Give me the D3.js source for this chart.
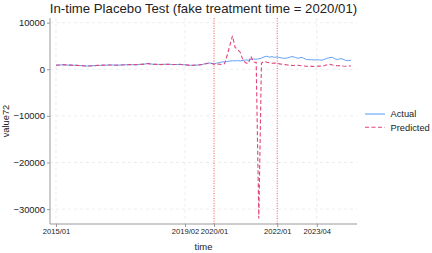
<!DOCTYPE html>
<html>
<head>
<meta charset="utf-8">
<script src="https://cdn.jsdelivr.net/npm/d3@7"></script>
<style>
  body { margin: 0; background: #fff; }
  text { font-family: "Liberation Sans", Arial, sans-serif; fill: #222; }
</style>
</head>
<body>
<div id="chart"></div>
<script>
// month index 0 = 2015/01
var tickMonths = [0, 49, 60, 84, 99];
var tickLabels = ["2015/01", "2019/02", "2020/01", "2022/01", "2023/04"];
var yTicks = [10000, 0, -10000, -20000, -30000];
var markerMonths = [60, 84]; // 2020/01, 2022/01

var actual = [
  900, 880, 950, 980, 920, 900, 870, 860, 830, 800, 760, 720,
  700, 720, 760, 800, 830, 850, 870, 880, 900, 920, 900, 880,
  900, 930, 950, 970, 1000, 980, 960, 1000, 1050, 1080, 1150, 1250,
  1150, 1050, 1070, 1040, 1020, 1060, 1080, 1050, 1030, 1000, 1020, 1040,
  1000, 950, 900, 860, 850, 880, 920, 980, 1100, 1250, 1350, 1300,
  1150, 1300, 1450, 1550, 1600, 1650, 1750, 1850, 1800, 1850, 1800, 1900,
  2000, 1950, 2100, 2200, 2150, 2250, 2400, 2650, 2800, 2600, 2700, 2550,
  2650, 2500, 2400, 2350, 2450, 2650, 2700, 2500, 2350, 2550, 2400, 2100,
  2050, 2050, 2000, 2050, 2000, 1950, 2150, 2350, 2500, 2550, 2200, 2100,
  2300, 2150, 1900, 1850, 1950
];
var predicted = [
  850, 900, 920, 950, 950, 880, 900, 830, 850, 780, 780, 700,
  730, 700, 780, 780, 850, 830, 900, 860, 920, 900, 930, 860,
  920, 910, 980, 950, 1020, 960, 990, 980, 1080, 1050, 1200, 1200,
  1100, 1080, 1040, 1060, 1000, 1080, 1050, 1080, 1000, 1030, 1000, 1060,
  980, 980, 880, 880, 830, 900, 900, 1000, 1050, 1200, 1300, 1250,
  1100, 1050, 1100, 1000, 1200, 3000, 5100, 7150, 4700, 4200, 3600, 1900,
  1400, 1200, 2800, 1500, 1500, -32000, 1300, 1700, 1500, 1400, 1300, 1350,
  1250, 1150, 1100, 1000, 900, 850, 800, 900, 850, 750, 700, 650,
  600, 650, 600, 650, 700, 650, 800, 1000, 1050, 900, 800, 750,
  800, 700, 650, 700, 700
];

var W = 432, H = 253;
var plotL = 50, plotR = 357, plotT = 18, plotB = 224;

var svg = d3.select("#chart").append("svg")
  .attr("width", W)
  .attr("height", H);

var x = d3.scaleLinear().domain([-2.27, 114.27]).range([plotL, plotR]);
var y = d3.scaleLinear().domain([-33200, 11000]).range([plotB, plotT]);

// grid
svg.selectAll(".hgrid").data(yTicks).enter().append("line")
  .attr("x1", plotL).attr("x2", plotR)
  .attr("y1", function(d) { return y(d); })
  .attr("y2", function(d) { return y(d); })
  .attr("stroke", "#e8e8e8").attr("stroke-width", 0.8)
  .attr("stroke-dasharray", "3,3");
svg.selectAll(".vgrid").data(tickMonths).enter().append("line")
  .attr("y1", plotT).attr("y2", plotB)
  .attr("x1", function(d) { return x(d); })
  .attr("x2", function(d) { return x(d); })
  .attr("stroke", "#e8e8e8").attr("stroke-width", 0.8)
  .attr("stroke-dasharray", "3,3");

// axes
var xAxis = d3.axisBottom(x).tickValues(tickMonths)
  .tickFormat(function(d, i) { return tickLabels[i]; })
  .tickSize(3).tickPadding(2);
var gx = svg.append("g").attr("transform", "translate(0," + plotB + ")").call(xAxis);
gx.select(".domain").attr("stroke", "#999").attr("d", "M" + plotL + ",0H" + plotR);
gx.selectAll(".tick line").attr("stroke", "#999");
gx.selectAll(".tick text").attr("font-size", "7.6px").attr("fill", "#222");

var yAxis = d3.axisLeft(y).tickValues(yTicks)
  .tickSize(3).tickPadding(2).tickFormat(d3.format("d"));
var gy = svg.append("g").attr("transform", "translate(" + plotL + ",0)").call(yAxis);
gy.select(".domain").attr("stroke", "#999").attr("d", "M0," + plotT + "V" + plotB);
gy.selectAll(".tick line").attr("stroke", "#999");
gy.selectAll(".tick text").attr("font-size", "9.4px").attr("fill", "#222");
svg.selectAll(".domain").attr("fill", "none");

// treatment markers
svg.selectAll(".marker").data(markerMonths).enter().append("line")
  .attr("x1", function(d) { return x(d); })
  .attr("x2", function(d) { return x(d); })
  .attr("y1", plotT).attr("y2", plotB)
  .attr("stroke", "#ff4040").attr("stroke-width", 0.8)
  .attr("stroke-dasharray", "1,1.5");

// lines
var line = d3.line()
  .x(function(d, i) { return x(i); })
  .y(function(d) { return y(d); });

svg.append("path").datum(actual)
  .attr("d", line)
  .attr("fill", "none")
  .attr("stroke", "#63a2fa")
  .attr("stroke-width", 1);

svg.append("path").datum(predicted)
  .attr("d", line)
  .attr("fill", "none")
  .attr("stroke", "#e0457b")
  .attr("stroke-width", 1.1)
  .attr("stroke-dasharray", "4,2.5");

// titles
svg.append("text")
  .attr("x", (plotL + plotR) / 2).attr("y", 12.5)
  .attr("text-anchor", "middle")
  .attr("font-size", "13.2px")
  .text("In-time Placebo Test (fake treatment time = 2020/01)");

svg.append("text")
  .attr("x", (plotL + plotR) / 2).attr("y", 250)
  .attr("text-anchor", "middle")
  .attr("font-size", "9.5px")
  .text("time");

svg.append("text")
  .attr("transform", "translate(9," + ((plotT + plotB) / 2) + ") rotate(-90)")
  .attr("text-anchor", "middle")
  .attr("font-size", "9.3px")
  .text("value72");

// legend
var legend = [
  { name: "Actual", color: "#63a2fa", dash: null },
  { name: "Predicted", color: "#e0457b", dash: "4,2.5" }
];
var lg = svg.selectAll(".legend").data(legend).enter().append("g")
  .attr("transform", function(d, i) { return "translate(365," + (114 + i * 13.3) + ")"; });
lg.append("line")
  .attr("x1", 0).attr("x2", 20)
  .attr("stroke", function(d) { return d.color; })
  .attr("stroke-width", 1.1)
  .attr("stroke-dasharray", function(d) { return d.dash; });
lg.append("text")
  .attr("x", 25.5).attr("y", 3.3)
  .attr("font-size", "9.3px")
  .text(function(d) { return d.name; });
</script>
</body>
</html>
